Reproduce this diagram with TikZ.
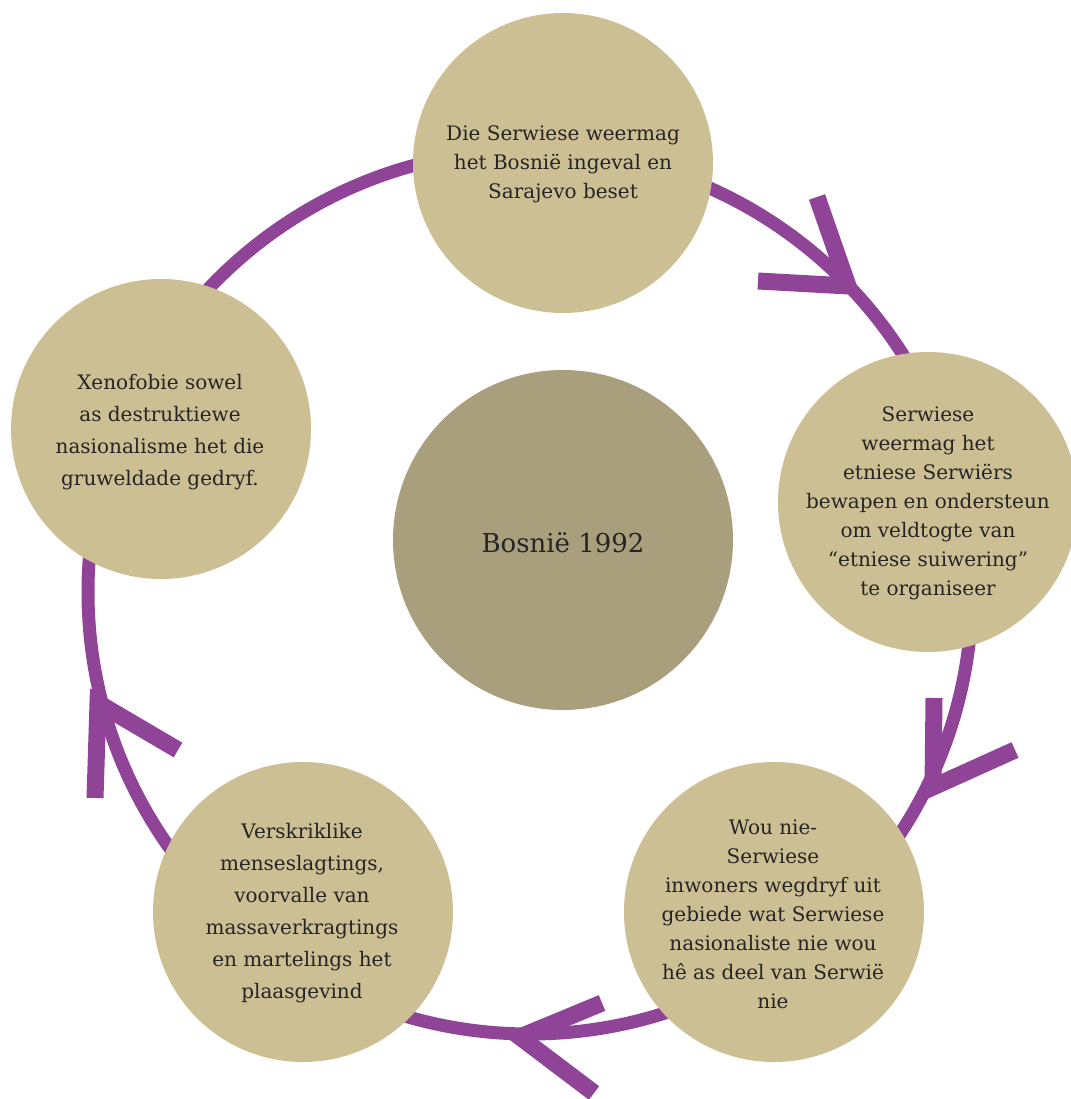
\documentclass[tikz,border=0pt]{standalone}
\usepackage{fontspec}
\setmainfont{DejaVu Serif}
\definecolor{ringc}{HTML}{8F4497}
\definecolor{bubc}{HTML}{CDBF94}
\definecolor{midc}{HTML}{A99F7C}
\definecolor{txtc}{HTML}{252525}
\tikzset{
  ringline/.style={draw=ringc, line width=13pt},
  arrowarm/.style={draw=ringc, line width=17pt, line join=miter, line cap=butt},
  bub/.style={circle, fill=bubc, minimum size=300pt, inner sep=0pt},
  midbub/.style={circle, fill=midc, minimum size=340pt, inner sep=0pt},
  bubtext/.style={align=center, text=txtc, font=\fontsize{20}{29}\selectfont, inner sep=0pt},
}
\begin{document}
\begin{tikzpicture}[x=1pt,y=-1pt]
\useasboundingbox (0,0) rectangle (1070,1099);
\fill[white] (0,0) rectangle (1070,1099);
\coordinate (ctr) at (530,592);
\draw[ringline] (ctr) circle[radius=442];
% arrowheads
\coordinate (a1) at (848,286);
\coordinate (a1u) at (817,197);
\coordinate (a1l) at (758,281);
\coordinate (a2) at (933,787);
\coordinate (a2u) at (934,698);
\coordinate (a2r) at (1015,750);
\coordinate (a3) at (520,1037);
\coordinate (a3u) at (602,1003);
\coordinate (a3d) at (594,1093);
\coordinate (a4) at (98,703);
\coordinate (a4d) at (95,798);
\coordinate (a4r) at (178,750);
\draw[arrowarm] (a1u) -- (a1) -- (a1l);
\draw[arrowarm] (a2u) -- (a2) -- (a2r);
\draw[arrowarm] (a3u) -- (a3) -- (a3d);
\draw[arrowarm] (a4d) -- (a4) -- (a4r);
% bubbles
\node[bub] (top) at (563,163) {};
\node[bub] (right) at (928,502) {};
\node[bub] (bright) at (774,912) {};
\node[bub] (bleft) at (303,912) {};
\node[bub] (left) at (161,429) {};
\node[midbub] (mid) at (563,540) {};
% texts
\node[bubtext] (ttop) at (563,164) {Die Serwiese weermag\\het Bosnië ingeval en\\Sarajevo beset};
\node[bubtext] (tright) at (928,503) {Serwiese\\weermag het\\etniese Serwiërs\\bewapen en ondersteun\\om veldtogte van\\“etniese suiwering”\\te organiseer};
\node[bubtext] (tbright) at (773,914) {Wou nie-\\Serwiese\\inwoners wegdryf uit\\gebiede wat Serwiese\\nasionaliste nie wou\\hê as deel van Serwië\\nie};
\node[bubtext, font=\fontsize{20}{32}\selectfont] (tbleft) at (302,913) {Verskriklike\\menseslagtings,\\voorvalle van\\massaverkragtings\\en martelings het\\plaasgevind};
\node[bubtext, font=\fontsize{20}{32}\selectfont] (tleft) at (160,432) {Xenofobie sowel\\as destruktiewe\\nasionalisme het die\\gruweldade gedryf.};
\node[bubtext, font=\fontsize{26}{30}\selectfont] (tmid) at (563,543) {Bosnië 1992};
\end{tikzpicture}
\end{document}
